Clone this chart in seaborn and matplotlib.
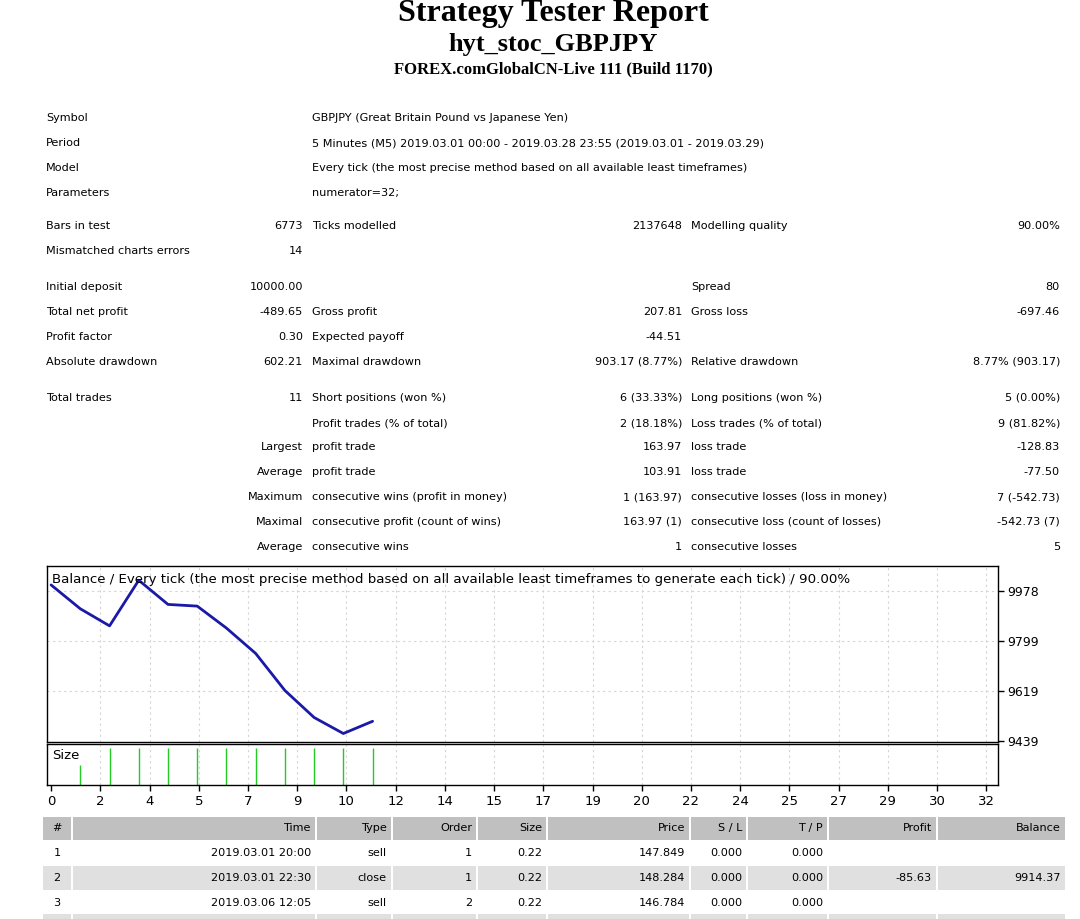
import matplotlib
matplotlib.use("Agg")
import matplotlib.pyplot as plt
import seaborn as sns
import pandas as pd
from matplotlib.patches import Rectangle

sns.set_theme(style="white")
plt.rcParams['font.family'] = ['DejaVu Sans']
plt.rcParams['text.color'] = 'black'
plt.rcParams['xtick.color'] = 'black'
plt.rcParams['ytick.color'] = 'black'

# ---------------- data ----------------
trade_no = [0, 1, 2, 3, 4, 5, 6, 7, 8, 9, 10, 11]
balance = [10000.00, 9914.37, 9853.0, 10016.9, 9930.0, 9924.0, 9845.0, 9754.0, 9621.0, 9524.0, 9466.5, 9510.35]
size_x = [1, 2, 3, 4, 5, 6, 7, 8, 9, 10, 11]
size_v = [0.12, 0.22, 0.22, 0.22, 0.22, 0.22, 0.22, 0.22, 0.22, 0.22, 0.22]
y_ticks = [9439, 9619, 9799, 9978]
x_tick_labels = ["0", "2", "4", "5", "7", "9", "10", "12", "14", "15", "17", "19",
                 "20", "22", "24", "25", "27", "29", "30", "32"]

info_rows = [("Symbol", "GBPJPY (Great Britain Pound vs Japanese Yen)", 118),
             ("Period", "5 Minutes (M5) 2019.03.01 00:00 - 2019.03.28 23:55 (2019.03.01 - 2019.03.29)", 143),
             ("Model", "Every tick (the most precise method based on all available least timeframes)", 168),
             ("Parameters", "numerator=32;", 193)]
stat_rows = [
    (226, "Bars in test", "6773", "Ticks modelled", "2137648", "Modelling quality", "90.00%"),
    (251, "Mismatched charts errors", "14", "", "", "", ""),
    (287, "Initial deposit", "10000.00", "", "", "Spread", "80"),
    (312, "Total net profit", "-489.65", "Gross profit", "207.81", "Gross loss", "-697.46"),
    (337, "Profit factor", "0.30", "Expected payoff", "-44.51", "", ""),
    (362, "Absolute drawdown", "602.21", "Maximal drawdown", "903.17 (8.77%)", "Relative drawdown", "8.77% (903.17)"),
    (398, "Total trades", "11", "Short positions (won %)", "6 (33.33%)", "Long positions (won %)", "5 (0.00%)"),
    (423, "", "", "Profit trades (% of total)", "2 (18.18%)", "Loss trades (% of total)", "9 (81.82%)"),
    (447, "", "Largest", "profit trade", "163.97", "loss trade", "-128.83"),
    (472, "", "Average", "profit trade", "103.91", "loss trade", "-77.50"),
    (497, "", "Maximum", "consecutive wins (profit in money)", "1 (163.97)", "consecutive losses (loss in money)", "7 (-542.73)"),
    (522, "", "Maximal", "consecutive profit (count of wins)", "163.97 (1)", "consecutive loss (count of losses)", "-542.73 (7)"),
    (547, "", "Average", "consecutive wins", "1", "consecutive losses", "5"),
]
table_header = ["#", "Time", "Type", "Order", "Size", "Price", "S / L", "T / P", "Profit", "Balance"]
table_rows = [
    ["1", "2019.03.01 20:00", "sell", "1", "0.22", "147.849", "0.000", "0.000", "", ""],
    ["2", "2019.03.01 22:30", "close", "1", "0.22", "148.284", "0.000", "0.000", "-85.63", "9914.37"],
    ["3", "2019.03.06 12:05", "sell", "2", "0.22", "146.784", "0.000", "0.000", "", ""],
]

# ---------------- figure ----------------
W, H = 1080, 919
fig = plt.figure(figsize=(W / 100, H / 100), dpi=100)
bg = fig.add_axes([0, 0, 1, 1])
bg.set_xlim(0, W); bg.set_ylim(H, 0); bg.axis("off")

serif = "Liberation Serif"
bg.text(553, 14, "Strategy Tester Report", ha="center", va="center", fontsize=23, fontweight="bold", family=serif)
bg.text(553, 45, "hyt_stoc_GBPJPY", ha="center", va="center", fontsize=19, fontweight="bold", family=serif)
bg.text(553, 69, "FOREX.comGlobalCN-Live 111 (Build 1170)", ha="center", va="center", fontsize=12, fontweight="bold", family=serif)

fs = 8.1
for lab, val, y in info_rows:
    bg.text(46, y, lab, va="center", fontsize=fs)
    bg.text(312, y, val, va="center", fontsize=fs)
for y, l1, v1, l2, v2, l3, v3 in stat_rows:
    bg.text(46, y, l1, va="center", fontsize=fs)
    bg.text(303, y, v1, va="center", ha="right", fontsize=fs)
    bg.text(312, y, l2, va="center", fontsize=fs)
    bg.text(682, y, v2, va="center", ha="right", fontsize=fs)
    bg.text(691, y, l3, va="center", fontsize=fs)
    bg.text(1060, y, v3, va="center", ha="right", fontsize=fs)

# table
col_edges = [42, 72, 316, 392, 477, 547, 690, 747, 828, 937, 1066]
row_top = [817, 841, 866, 891, 916]
for i in range(len(col_edges) - 1):
    x0, x1 = col_edges[i], col_edges[i + 1]
    bg.add_patch(Rectangle((x0 + 1, row_top[0]), x1 - x0 - 2, 23, color="#c0c0c0", lw=0))
    ha = "center" if i == 0 else "right"
    tx = (x0 + x1) / 2 if i == 0 else x1 - 5
    bg.text(tx, 828, table_header[i], ha=ha, va="center", fontsize=fs)
for r, row in enumerate(table_rows):
    top = row_top[r + 1]
    yc = top + 12
    if r % 2 == 1:
        for i in range(len(col_edges) - 1):
            bg.add_patch(Rectangle((col_edges[i] + 1, top), col_edges[i + 1] - col_edges[i] - 2, 24,
                                   color="#e0e0e0", lw=0))
    for i, cell in enumerate(row):
        x0, x1 = col_edges[i], col_edges[i + 1]
        ha = "center" if i == 0 else "right"
        tx = (x0 + x1) / 2 if i == 0 else x1 - 5
        bg.text(tx, yc, cell, ha=ha, va="center", fontsize=fs)
for i in range(len(col_edges) - 1):
    bg.add_patch(Rectangle((col_edges[i] + 1, 914), col_edges[i + 1] - col_edges[i] - 2, 6, color="#e0e0e0", lw=0))

# ---------------- balance chart ----------------
def frac(x0, y0, x1, y1):
    return [x0 / W, 1 - y1 / H, (x1 - x0) / W, (y1 - y0) / H]

xlo, xhi = -0.14, 32.4
grid_kw = dict(color="#d4d4d4", ls=(0, (2, 3)), lw=0.8, zorder=0)
ax = fig.add_axes(frac(47, 566, 998, 742))
df = pd.DataFrame({"trade": trade_no, "balance": balance})
sns.lineplot(data=df, x="trade", y="balance", ax=ax, color="#1a1aa6", lw=2)
ax.set_xlim(xlo, xhi)
ax.set_ylim(9436, 10068)
tick_pos = [k * 32 / 19 for k in range(20)]
for t in tick_pos[1:]:
    ax.axvline(t, **grid_kw)
for t in y_ticks[1:]:
    ax.axhline(t, **grid_kw)
ax.set_xticks([]); ax.yaxis.tick_right()
ax.set_yticks(y_ticks); ax.set_yticklabels([str(v) for v in y_ticks], fontsize=9)
ax.tick_params(axis="y", length=4, width=1, color="black", pad=3, right=True)
ax.set_xlabel(""); ax.set_ylabel("")
for s in ax.spines.values():
    s.set_color("black"); s.set_linewidth(1)
ax.text(0.005, 0.96, "Balance / Every tick (the most precise method based on all available least timeframes to generate each tick) / 90.00%",
        transform=ax.transAxes, fontsize=9.6, va="top")

# ---------------- size chart ----------------
ax2 = fig.add_axes(frac(47, 744, 998, 785))
ax2.vlines(size_x, 0, size_v, color="#22cc22", lw=1)
ax2.set_xlim(xlo, xhi); ax2.set_ylim(0, 0.245)
for t in tick_pos[1:]:
    ax2.axvline(t, **grid_kw)
ax2.set_yticks([])
ax2.set_xticks(tick_pos); ax2.set_xticklabels(x_tick_labels, fontsize=9.5)
ax2.tick_params(axis="x", length=4, width=1, color="black", bottom=True, pad=3)
for s in ax2.spines.values():
    s.set_color("black"); s.set_linewidth(1)
ax2.text(0.005, 0.88, "Size", transform=ax2.transAxes, fontsize=9.5, va="top")

fig.savefig("out.png", dpi=100, facecolor="white")
